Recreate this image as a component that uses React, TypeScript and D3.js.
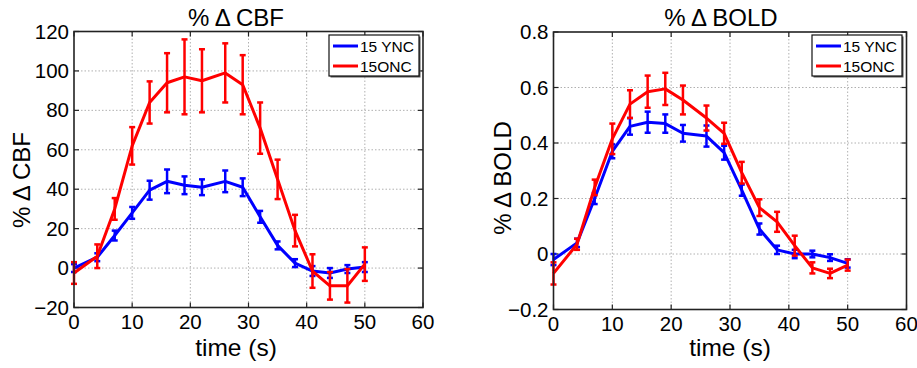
import React from "react";
import * as d3 from "d3";

const time = [0, 4, 7, 10, 13, 16, 19, 22, 26, 29, 32, 35, 38, 41, 44, 47, 50];
const cbfYNC = [0, 5.5, 16.5, 28, 39.5, 44, 42, 41, 44, 41, 26, 11.5, 2.5, -1.5, -2.5, -0.5, 0.5];
const cbfYNCErr = [2, 2, 2.5, 3, 4.8, 6, 4.5, 4, 5.5, 4.5, 3, 2, 2, 2.5, 2.5, 2, 2.5];
const cbfONC = [-2.5, 6, 30, 62, 84, 94, 97, 95, 99, 93, 71, 45, 19, -1.5, -9, -9, 2];
const cbfONCErr = [5.5, 6, 5.5, 9.5, 10.7, 15, 19, 16, 15, 15, 13, 10, 8, 8.5, 7, 8.5, 8.5];
const boldYNC = [-0.02, 0.04, 0.2, 0.37, 0.46, 0.475, 0.47, 0.435, 0.425, 0.365, 0.23, 0.09, 0.015, 0.0, 0.0, -0.013, -0.034];
const boldYNCErr = [0.02, 0.015, 0.02, 0.025, 0.03, 0.038, 0.033, 0.03, 0.038, 0.025, 0.02, 0.02, 0.015, 0.015, 0.012, 0.012, 0.015];
const boldONC = [-0.07, 0.035, 0.24, 0.415, 0.54, 0.585, 0.595, 0.555, 0.49, 0.435, 0.293, 0.167, 0.116, 0.03, -0.05, -0.07, -0.04];
const boldONCErr = [0.04, 0.02, 0.028, 0.055, 0.05, 0.058, 0.058, 0.052, 0.045, 0.038, 0.039, 0.03, 0.036, 0.036, 0.02, 0.017, 0.02];

const xTicks = [0, 10, 20, 30, 40, 50, 60];
const cbfTicks = [-20, 0, 20, 40, 60, 80, 100, 120];
const boldTicks = [-0.2, 0, 0.2, 0.4, 0.6, 0.8];
const seriesNames = ["15 YNC", "15ONC"];
const seriesColors = ["#0000ff", "#ff0000"];

const FONT = "'Liberation Sans', Arial, sans-serif";

type PanelProps = {
  x0: number; x1: number; y0: number; y1: number;
  yDomain: [number, number]; yTicks: number[]; fmt: (v: number) => string;
  series: { v: number[]; e: number[] }[];
  title: string; titleX: number; ylabel: string; ylabelX: number; ylabelY: number; xlabelX: number;
  legend: { left: number; top: number; w: number; h: number };
};

function Panel(p: PanelProps) {
  const xs = d3.scaleLinear().domain([0, 60]).range([p.x0, p.x1]);
  const ys = d3.scaleLinear().domain(p.yDomain).range([p.y1, p.y0]);
  const line = d3.line<number>().x((_, i) => xs(time[i])).y((d) => ys(d));
  const tl = 5;
  const cap = 3;
  return (
    <g>
      {xTicks.slice(1, -1).map((t) => (
        <line key={"gx" + t} x1={xs(t)} x2={xs(t)} y1={p.y0} y2={p.y1} stroke="#b0b0b0" strokeWidth={1} strokeDasharray="1.5,2" />
      ))}
      {p.yTicks.slice(1, -1).map((t) => (
        <line key={"gy" + t} x1={p.x0} x2={p.x1} y1={ys(t)} y2={ys(t)} stroke="#b0b0b0" strokeWidth={1} strokeDasharray="1.5,2" />
      ))}
      {xTicks.map((t) => (
        <g key={"tx" + t}>
          <line x1={xs(t)} x2={xs(t)} y1={p.y1} y2={p.y1 - tl} stroke="#222" strokeWidth={1.2} />
          <line x1={xs(t)} x2={xs(t)} y1={p.y0} y2={p.y0 + tl} stroke="#222" strokeWidth={1.2} />
          <text x={xs(t)} y={p.y1 + 21} textAnchor="middle" fontSize={20.5} fontFamily={FONT} fill="#000">{t}</text>
        </g>
      ))}
      {p.yTicks.map((t) => (
        <g key={"ty" + t}>
          <line x1={p.x0} x2={p.x0 + tl} y1={ys(t)} y2={ys(t)} stroke="#222" strokeWidth={1.2} />
          <line x1={p.x1} x2={p.x1 - tl} y1={ys(t)} y2={ys(t)} stroke="#222" strokeWidth={1.2} />
          <text x={p.x0 - 5} y={ys(t) + 7} textAnchor="end" fontSize={20.5} fontFamily={FONT} fill="#000">{p.fmt(t)}</text>
        </g>
      ))}
      {p.series.map((s, si) => (
        <g key={"s" + si}>
          <path d={line(s.v) || ""} fill="none" stroke={seriesColors[si]} strokeWidth={3} strokeLinejoin="round" />
          {s.v.map((v, i) => {
            const cx = xs(time[i]);
            const ya = ys(v + s.e[i]);
            const yb = ys(v - s.e[i]);
            return (
              <g key={i} stroke={seriesColors[si]} strokeWidth={2.5}>
                <line x1={cx} x2={cx} y1={ya} y2={yb} />
                <line x1={cx - cap} x2={cx + cap} y1={ya} y2={ya} />
                <line x1={cx - cap} x2={cx + cap} y1={yb} y2={yb} />
              </g>
            );
          })}
        </g>
      ))}
      <rect x={p.x0} y={p.y0} width={p.x1 - p.x0} height={p.y1 - p.y0} fill="none" stroke="#222" strokeWidth={1.6} />
      <rect x={p.legend.left + 1.5} y={p.legend.top + 1.5} width={p.legend.w} height={p.legend.h} fill="#555" />
      <rect x={p.legend.left} y={p.legend.top} width={p.legend.w} height={p.legend.h} fill="#fff" stroke="#111" strokeWidth={1.2} />
      {seriesNames.map((n, i) => {
        const yy = p.legend.top + 11 + i * 20;
        return (
          <g key={n}>
            <line x1={p.legend.left + 4} x2={p.legend.left + 29} y1={yy} y2={yy} stroke={seriesColors[i]} strokeWidth={3} />
            <text x={p.legend.left + 31} y={yy + 5.5} fontSize={15.5} fontFamily={FONT} fill="#000">{n}</text>
          </g>
        );
      })}
      <text x={p.titleX} y={26} textAnchor="middle" fontSize={24} fontFamily={FONT} fill="#000">{p.title}</text>
      <text x={p.xlabelX} y={356} textAnchor="middle" fontSize={24.5} fontFamily={FONT} fill="#000">time (s)</text>
      <text transform={`translate(${p.ylabelX},${p.ylabelY}) rotate(-90)`} textAnchor="middle" dy="0.35em" fontSize={24} fontFamily={FONT} fill="#000">{p.ylabel}</text>
    </g>
  );
}

export default function App() {
  const f1 = (v: number) => d3.format("d")(v);
  const f2 = (v: number) => (Math.abs(v) < 1e-9 ? "0" : d3.format(".1f")(v));
  return (
    <svg width={917} height={368} style={{ position: "absolute", left: 0, top: 0, background: "#fff" }}>
      <rect width={917} height={368} fill="#fff" />
      <Panel
        x0={74} x1={423} y0={31.5} y1={307.5}
        yDomain={[-20, 120]} yTicks={cbfTicks} fmt={f1}
        series={[{ v: cbfYNC, e: cbfYNCErr }, { v: cbfONC, e: cbfONCErr }]}
        title="% Δ CBF" titleX={236} ylabel="% Δ CBF" ylabelX={22} ylabelY={180} xlabelX={236}
        legend={{ left: 329, top: 35, w: 90, h: 41 }}
      />
      <Panel
        x0={553.5} x1={906.5} y0={32} y1={309.5}
        yDomain={[-0.2, 0.8]} yTicks={boldTicks} fmt={f2}
        series={[{ v: boldYNC, e: boldYNCErr }, { v: boldONC, e: boldONCErr }]}
        title="% Δ BOLD" titleX={721} ylabel="% Δ BOLD" ylabelX={503} ylabelY={178} xlabelX={730}
        legend={{ left: 812, top: 35, w: 90, h: 41 }}
      />
    </svg>
  );
}
